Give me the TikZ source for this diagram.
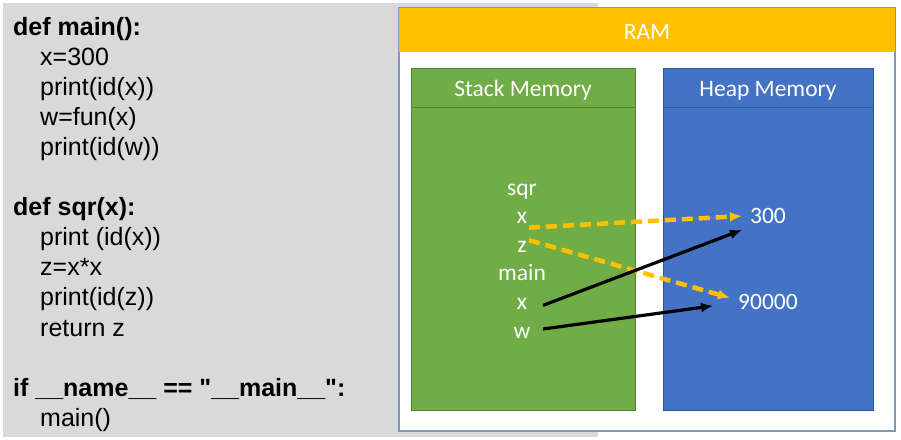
\documentclass[tikz,border=0pt]{standalone}
\usepackage{fontspec}
\setmainfont{Liberation Sans}
\newfontfamily\memfont{Carlito}
\usetikzlibrary{arrows.meta}
\definecolor{panelgray}{HTML}{D9D9D9}
\definecolor{ramyellow}{HTML}{FFC000}
\definecolor{ramedge}{HTML}{8497B0}
\definecolor{stackgreen}{HTML}{70AD47}
\definecolor{stackedge}{HTML}{548235}
\definecolor{heapblue}{HTML}{4472C4}
\definecolor{heapedge}{HTML}{2F5597}
\newcommand{\codesize}{\fontsize{25}{30}\selectfont}
\newcommand{\memsize}{\memfont\fontsize{23.5}{28}\selectfont}
\tikzset{
  codeline/.style={anchor=base west, inner sep=0pt, font=\codesize},
  codehead/.style={codeline, font=\codesize\bfseries},
  memlabel/.style={anchor=base, inner sep=0pt, text=white, font=\memsize},
  memval/.style={memlabel, inner xsep=8pt, inner ysep=6pt},
  ptr/.style={-{Latex[length=12pt,width=10pt]}, line width=3.2pt, black},
  dptr/.style={ptr, draw=ramyellow, fill=ramyellow, line width=4.5pt, dash pattern=on 11pt off 6pt},
  membox/.style={line width=1pt}
}

\begin{document}
\begin{tikzpicture}[x=1pt, y=-1pt]
\useasboundingbox (0,0) rectangle (901,439);
% code panel
\fill[panelgray] (3,3) rectangle (598,437);
\node[codehead] (c1) at (13,35) {def main():};
\node[codeline] (c2) at (40,65.1) {x=300};
\node[codeline] (c3) at (40,95.2) {print(id(x))};
\node[codeline] (c4) at (40,125.3) {w=fun(x)};
\node[codeline] (c5) at (40,155.4) {print(id(w))};
\node[codehead] (c6) at (13,215.6) {def sqr(x):};
\node[codeline] (c7) at (40,245.7) {print (id(x))};
\node[codeline] (c8) at (40,275.8) {z=x*x};
\node[codeline] (c9) at (40,305.9) {print(id(z))};
\node[codeline] (c10) at (40,336) {return z};
\node[codehead] (c11) at (13,396.2) {if \_\_name\_\_ == \textquotedbl\_\_main\_\_\textquotedbl:};
\node[codeline] (c12) at (40,426.3) {main()};
% RAM
\draw[ramedge, fill=white, line width=1.2pt] (399,8) rectangle (895,431);
\fill[ramyellow] (399,8) rectangle (895,52);
\node[memlabel] (ram) at (647,39) {RAM};
% stack and heap
\draw[membox, draw=stackedge, fill=stackgreen] (411,68) rectangle (635,410);
\draw[membox, draw=stackedge] (411,107) -- (635,107);
\draw[membox, draw=heapedge, fill=heapblue] (663,68) rectangle (873,410);
\draw[membox, draw=heapedge] (663,107) -- (873,107);
\node[memlabel] (stack) at (523,96) {Stack Memory};
\node[memlabel] (heap) at (768,96) {Heap Memory};
% frames
\node[memlabel] (sqr) at (522,195) {sqr};
\node[memlabel] (sx) at (522,223.6) {x};
\node[memlabel] (sz) at (522,252.2) {z};
\node[memlabel] (main) at (522,280.8) {main};
\node[memlabel] (mx) at (522,309.4) {x};
\node[memlabel] (mw) at (522,338) {w};
% objects
\node[memval] (v300) at (768,223.6) {300};
\node[memval] (v90k) at (768,309.4) {90000};
% references
\draw[dptr] ([shift={(7,4)}]sx.base) -- (v300.west);
\draw[dptr] ([shift={(7,-12)}]sz.base) -- ([yshift=4pt]v90k.west);
\draw[ptr] ([shift={(21,-4)}]mx.base) -- (v300.south west);
\draw[ptr] ([shift={(21,-9)}]mw.base) -- ([shift={(-17,4)}]v90k.west);
\end{tikzpicture}
\end{document}
